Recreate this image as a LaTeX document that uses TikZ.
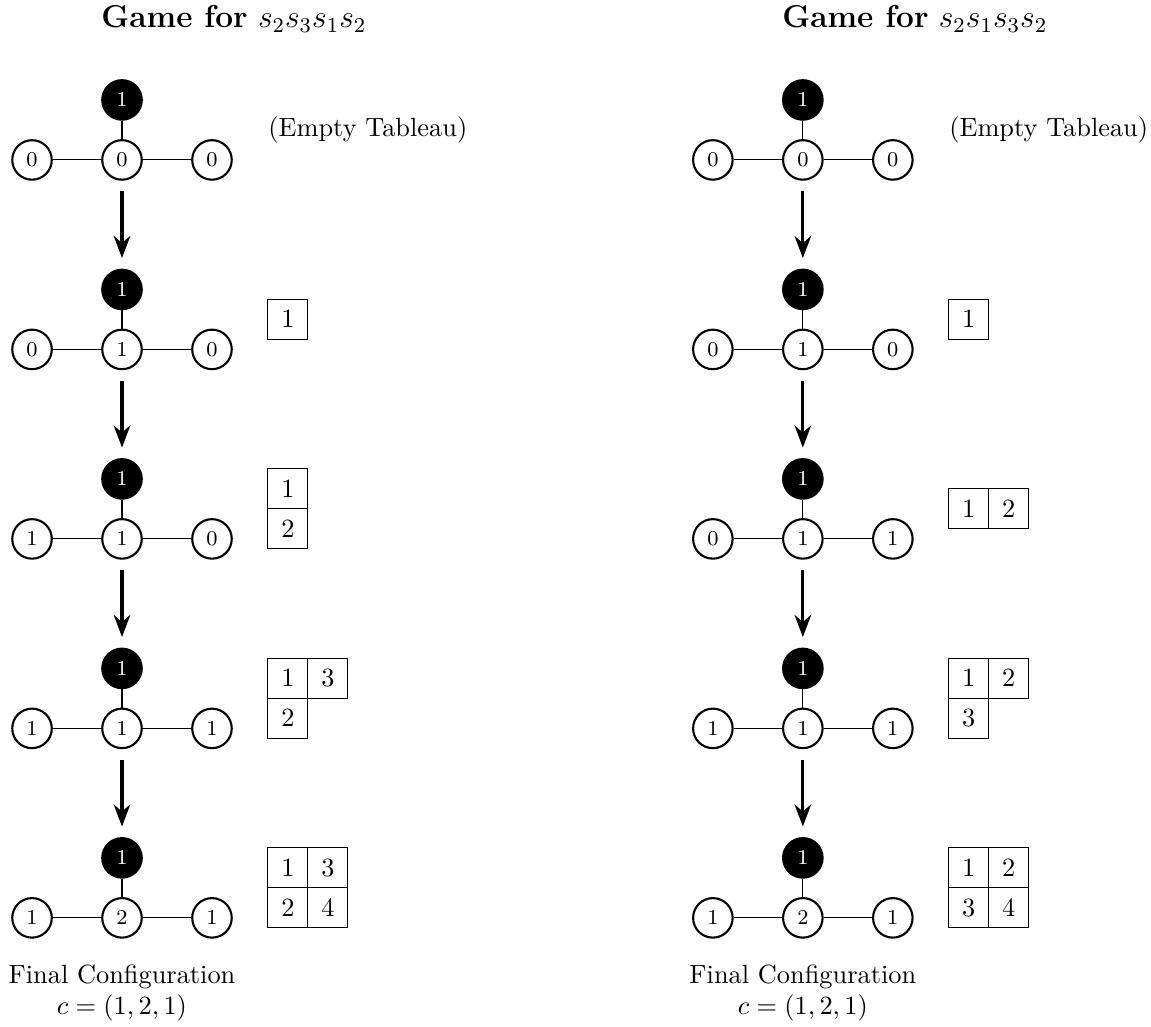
\documentclass[tikz,border=0pt]{standalone}
\usepackage{amsmath}
\usepackage{amssymb}
\usetikzlibrary{arrows.meta}

\begin{document}
\begin{tikzpicture}[>=Stealth]
  \tikzstyle{vertex}=[circle,draw,thick,minimum size=15pt,inner sep=0pt,font=\footnotesize]
  \tikzstyle{root}=[vertex,fill=black,text=white]
  \tikzstyle{cell}=[draw,minimum size=0.533cm,inner sep=0pt]
  \tikzstyle{move}=[->,very thick,shorten <=4pt,shorten >=4pt]

  \useasboundingbox (0,0) rectangle (15.35,-13.69);

  \node[anchor=base] (A-title) at (3.12,-0.37) {\large\textbf{Game for} $s_2s_3s_1s_2$};
  \node[anchor=base] (B-title) at (12.2,-0.37) {\large\textbf{Game for} $s_2s_1s_3s_2$};

  \foreach \i/\a/\b/\c in {1/0/0/0, 2/0/1/0, 3/1/1/0, 4/1/1/1, 5/1/2/1}
  {
    \node[root] (A-\i-t) at (1.627,{-1.333-2.527*(\i-1)}) {1};
    \node[vertex] (A-\i-l) at (0.427,{-2.133-2.527*(\i-1)}) {$\a$};
    \node[vertex] (A-\i-c) at (1.627,{-2.133-2.527*(\i-1)}) {$\b$};
    \node[vertex] (A-\i-r) at (2.827,{-2.133-2.527*(\i-1)}) {$\c$};
    \draw (A-\i-t) -- (A-\i-c);
    \draw (A-\i-l) -- (A-\i-c) -- (A-\i-r);
  }

  \foreach \i/\a/\b/\c in {1/0/0/0, 2/0/1/0, 3/0/1/1, 4/1/1/1, 5/1/2/1}
  {
    \node[root,xshift=9.08cm] (B-\i-t) at (1.627,{-1.333-2.527*(\i-1)}) {1};
    \node[vertex,xshift=9.08cm] (B-\i-l) at (0.427,{-2.133-2.527*(\i-1)}) {$\a$};
    \node[vertex,xshift=9.08cm] (B-\i-c) at (1.627,{-2.133-2.527*(\i-1)}) {$\b$};
    \node[vertex,xshift=9.08cm] (B-\i-r) at (2.827,{-2.133-2.527*(\i-1)}) {$\c$};
    \draw (B-\i-t) -- (B-\i-c);
    \draw (B-\i-l) -- (B-\i-c) -- (B-\i-r);
  }

  \foreach \from/\to in {1/2,2/3,3/4,4/5}
    { \draw[move] (A-\from-c) -- (A-\to-t); }

  \foreach \from/\to in {1/2,2/3,3/4,4/5}
    { \draw[move] (B-\from-c) -- (B-\to-t); }

  % tableaux: stage/column/row offset/entry
  \node[anchor=west,inner sep=0pt] (A-empty) at (3.573,-1.733) {(Empty Tableau)};
  \node[anchor=west,inner sep=0pt,xshift=9.08cm] (B-empty) at (3.573,-1.733) {(Empty Tableau)};

  \foreach \s/\x/\y/\v in {2/0/0/1, 3/0/0.5/1, 3/0/-0.5/2,
      4/0/0.5/1, 4/1/0.5/3, 4/0/-0.5/2,
      5/0/0.5/1, 5/1/0.5/3, 5/0/-0.5/2, 5/1/-0.5/4}
    \node[cell] (TA-\s-\v) at ({3.84+0.533*\x},{-1.733-2.527*(\s-1)+0.533*\y}) {$\v$};

  \foreach \s/\x/\y/\v in {2/0/0/1, 3/0/0/1, 3/1/0/2,
      4/0/0.5/1, 4/1/0.5/2, 4/0/-0.5/3,
      5/0/0.5/1, 5/1/0.5/2, 5/0/-0.5/3, 5/1/-0.5/4}
    \node[cell,xshift=9.08cm] (TB-\s-\v) at ({3.84+0.533*\x},{-1.733-2.527*(\s-1)+0.533*\y}) {$\v$};

  \node[align=center] (A-final) at ([yshift=-1cm]A-5-c) {Final Configuration\\ $c=(1,2,1)$};
  \node[align=center] (B-final) at ([yshift=-1cm]B-5-c) {Final Configuration\\ $c=(1,2,1)$};
\end{tikzpicture}
\end{document}
